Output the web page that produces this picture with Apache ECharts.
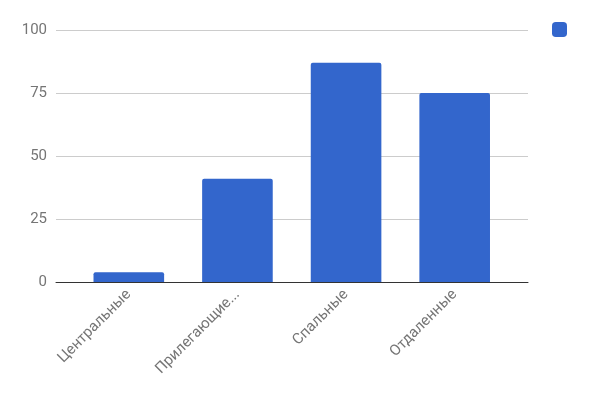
<!DOCTYPE html>
<html>
<head>
<meta charset="utf-8">
<script src="https://cdn.jsdelivr.net/npm/echarts@6/dist/echarts.min.js"></script>
<style>
  html, body { margin: 0; padding: 0; background: #fff; }
  #chart { width: 606px; height: 401px; }
</style>
</head>
<body>
<div id="chart"></div>
<script>
var categories = ['Центральные', 'Прилегающие...', 'Спальные', 'Отдаленные'];
var values = [4, 41, 87, 75];
var yTicks = [0, 25, 50, 75, 100];
var seriesName = ' ';

var chart = echarts.init(document.getElementById('chart'));

var top_ = 30, bottom_ = 118.7;

chart.setOption({
    backgroundColor: '#fff',
    animation: false,
    textStyle: { fontFamily: 'Roboto' },
    legend: {
        data: [seriesName],
        left: 552, top: 22, padding: 0,
        icon: 'roundRect',
        itemWidth: 15, itemHeight: 15,
        textStyle: { fontSize: 1 }
    },
    grid: [
        // axis frame: gridlines and baseline
        { left: 56, right: 78, top: top_, bottom: bottom_ },
        // bars
        { left: 74.5, right: 97, top: top_, bottom: bottom_ }
    ],
    xAxis: [
        {
            gridIndex: 0, type: 'value', min: 0, max: 1, z: 3,
            axisLine: { show: true, lineStyle: { color: '#333', width: 1 } },
            axisTick: { show: false }, axisLabel: { show: false },
            splitLine: { show: false }
        },
        {
            gridIndex: 1, type: 'category', data: categories,
            axisLine: { show: false }, axisTick: { show: false },
            axisLabel: {
                rotate: 45, margin: 10, interval: 0,
                color: '#757575', fontSize: 15, fontFamily: 'Roboto'
            }
        }
    ],
    yAxis: [
        {
            gridIndex: 0, type: 'value',
            min: yTicks[0], max: yTicks[yTicks.length - 1], interval: 25,
            axisLine: { show: false }, axisTick: { show: false },
            axisLabel: { margin: 9, color: '#757575', fontSize: 15, fontFamily: 'Roboto' },
            splitLine: { lineStyle: { color: '#cccccc', width: 1 } }
        },
        {
            gridIndex: 1, type: 'value',
            min: yTicks[0], max: yTicks[yTicks.length - 1],
            show: false
        }
    ],
    series: [{
        name: seriesName,
        type: 'bar',
        xAxisIndex: 1, yAxisIndex: 1,
        data: values,
        barWidth: '65%',
        itemStyle: { color: '#3366cc', borderRadius: [2, 2, 0, 0] }
    }]
});
</script>
</body>
</html>
